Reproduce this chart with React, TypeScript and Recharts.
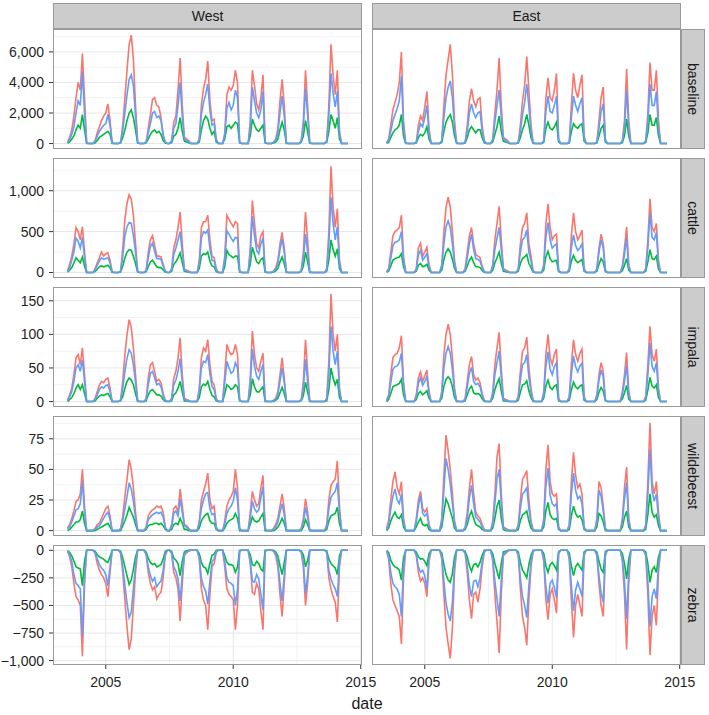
import React from 'react';
import { LineChart, Line, XAxis, YAxis, CartesianGrid } from 'recharts';

const regions = ['West', 'East'];
const species = ['baseline', 'cattle', 'impala', 'wildebeest', 'zebra'];

// monthly steps from mid 2003 to mid 2014, as decimal years
const dates = Array.from({ length: 133 }, (_, i) => 2003.5 + i / 12);

// ---- West ----
const westBaselineRed = [
  100, 400, 900, 1800, 3000, 4000, 3500, 5900, 3000, 50, 0, 0,
  0, 200, 700, 1100, 1500, 1800, 2000, 2600, 1500, 50, 0, 0,
  0, 100, 1200, 3000, 4800, 6500, 7100, 5500, 2500, 100, 0, 0,
  0, 100, 1000, 1900, 2900, 3000, 2500, 2400, 1700, 600, 100, 0,
  0, 200, 1400, 1800, 3500, 5600, 2500, 400, 300, 200, 0, 0,
  0, 0, 300, 2500, 3600, 4200, 5400, 2800, 1500, 1600, 300, 0,
  0, 0, 700, 3200, 3700, 3500, 3800, 4800, 4000, 100, 0, 0,
  0, 0, 1500, 4800, 3800, 2600, 2200, 3000, 4500, 100, 0, 0,
  0, 100, 300, 1000, 2800, 4200, 2500, 50, 0, 0, 0, 0,
  0, 0, 200, 1500, 4800, 2500, 50, 0, 0, 0, 0, 0,
  0, 0, 200, 2500, 6500, 4500, 3200, 4800, 800, 0, 0, 0,
  0,
];
const westBaselineBlue = [
  50, 250, 600, 1100, 2000, 2800, 2500, 4700, 2000, 30, 0, 0,
  0, 150, 500, 800, 1000, 1200, 1300, 1900, 1200, 30, 0, 0,
  0, 80, 900, 2000, 3200, 4200, 4500, 3800, 1800, 60, 0, 0,
  0, 80, 700, 1300, 2000, 2100, 1700, 1800, 1500, 500, 80, 0,
  0, 150, 1000, 1300, 2500, 4000, 1800, 300, 200, 150, 0, 0,
  0, 0, 200, 1900, 2700, 3200, 3900, 2200, 1200, 1300, 200, 0,
  0, 0, 500, 2300, 2700, 2200, 2500, 3500, 3000, 80, 0, 0,
  0, 0, 1000, 3700, 2800, 2000, 1700, 2200, 3400, 80, 0, 0,
  0, 80, 200, 700, 2000, 3100, 1800, 30, 0, 0, 0, 0,
  0, 0, 150, 1100, 3600, 1900, 40, 0, 0, 0, 0, 0,
  0, 0, 150, 1800, 4600, 3300, 2400, 3400, 600, 0, 0, 0,
  0,
];
const westBaselineGreen = [
  20, 100, 300, 500, 900, 1200, 1000, 1900, 900, 10, 0, 0,
  0, 50, 200, 400, 500, 600, 700, 800, 600, 10, 0, 0,
  0, 40, 400, 900, 1500, 2000, 2200, 1700, 900, 30, 0, 0,
  0, 40, 300, 600, 800, 900, 700, 800, 600, 200, 30, 0,
  0, 60, 500, 600, 1000, 1700, 800, 150, 100, 60, 0, 0,
  0, 0, 100, 900, 1500, 1800, 1600, 1000, 600, 800, 100, 0,
  0, 0, 300, 1100, 1200, 1000, 1200, 1400, 1300, 40, 0, 0,
  0, 0, 500, 1600, 1200, 900, 800, 1000, 1200, 40, 0, 0,
  0, 30, 100, 300, 900, 1400, 900, 10, 0, 0, 0, 0,
  0, 0, 80, 500, 1500, 800, 20, 0, 0, 0, 0, 0,
  0, 0, 80, 800, 1900, 1500, 1000, 1700, 300, 0, 0, 0,
  0,
];

const westCattleRed = [
  20, 100, 200, 350, 550, 500, 400, 560, 250, 0, 0, 0,
  0, 50, 120, 180, 250, 200, 230, 240, 150, 10, 0, 0,
  0, 20, 300, 650, 850, 950, 900, 700, 350, 20, 0, 0,
  0, 30, 250, 400, 450, 330, 200, 200, 190, 100, 20, 0,
  0, 50, 300, 400, 550, 740, 350, 40, 30, 20, 0, 0,
  0, 0, 150, 550, 620, 620, 700, 400, 200, 180, 50, 0,
  0, 0, 200, 700, 650, 600, 560, 620, 600, 20, 0, 0,
  0, 0, 300, 880, 600, 350, 300, 450, 500, 20, 0, 0,
  0, 20, 60, 150, 350, 490, 300, 10, 0, 0, 0, 0,
  0, 0, 30, 250, 740, 400, 10, 0, 0, 0, 0, 0,
  0, 0, 50, 500, 1300, 800, 550, 780, 150, 0, 0, 0,
  0,
];
const westCattleBlue = [
  10, 60, 150, 250, 420, 380, 300, 430, 180, 0, 0, 0,
  0, 30, 90, 140, 180, 160, 170, 180, 120, 5, 0, 0,
  0, 15, 200, 450, 560, 610, 600, 450, 250, 10, 0, 0,
  0, 20, 180, 320, 360, 260, 170, 170, 160, 80, 15, 0,
  0, 30, 220, 300, 400, 500, 250, 30, 20, 10, 0, 0,
  0, 0, 100, 420, 500, 480, 520, 300, 150, 140, 30, 0,
  0, 0, 150, 510, 470, 420, 380, 430, 420, 15, 0, 0,
  0, 0, 220, 690, 450, 270, 230, 350, 420, 15, 0, 0,
  0, 15, 40, 110, 280, 410, 250, 5, 0, 0, 0, 0,
  0, 0, 20, 170, 470, 260, 5, 0, 0, 0, 0, 0,
  0, 0, 30, 350, 920, 600, 400, 560, 100, 0, 0, 0,
  0,
];
const westCattleGreen = [
  5, 30, 60, 120, 180, 150, 120, 190, 80, 0, 0, 0,
  0, 15, 40, 70, 80, 70, 80, 90, 60, 0, 0, 0,
  0, 5, 80, 180, 250, 280, 270, 200, 110, 5, 0, 0,
  0, 10, 70, 130, 150, 110, 70, 60, 60, 30, 5, 0,
  0, 15, 100, 130, 180, 240, 120, 15, 10, 5, 0, 0,
  0, 0, 50, 200, 230, 220, 250, 140, 80, 70, 10, 0,
  0, 0, 70, 270, 220, 200, 180, 200, 200, 5, 0, 0,
  0, 0, 100, 310, 220, 130, 110, 160, 180, 5, 0, 0,
  0, 5, 20, 50, 130, 190, 110, 0, 0, 0, 0, 0,
  0, 0, 10, 80, 250, 130, 0, 0, 0, 0, 0, 0,
  0, 0, 15, 150, 400, 280, 200, 290, 50, 0, 0, 0,
  0,
];

const westImpalaRed = [
  2, 10, 20, 40, 65, 70, 55, 80, 40, 0, 0, 0,
  0, 5, 15, 25, 30, 28, 33, 35, 20, 0, 0, 0,
  0, 3, 30, 70, 100, 122, 110, 80, 40, 2, 0, 0,
  0, 5, 35, 55, 58, 45, 30, 33, 28, 12, 2, 0,
  0, 5, 35, 45, 65, 95, 40, 5, 3, 2, 0, 0,
  0, 0, 20, 65, 80, 75, 92, 55, 30, 25, 5, 0,
  0, 0, 40, 85, 75, 70, 72, 85, 70, 3, 0, 0,
  0, 0, 35, 105, 70, 50, 45, 60, 72, 2, 0, 0,
  0, 2, 5, 15, 40, 65, 35, 1, 0, 0, 0, 0,
  0, 0, 3, 30, 92, 45, 1, 0, 0, 0, 0, 0,
  0, 0, 5, 60, 160, 100, 75, 100, 20, 0, 0, 0,
  0,
];
const westImpalaBlue = [
  1, 7, 15, 30, 50, 55, 45, 62, 30, 0, 0, 0,
  0, 3, 10, 18, 22, 20, 24, 25, 15, 0, 0, 0,
  0, 2, 20, 45, 65, 77, 72, 55, 28, 1, 0, 0,
  0, 3, 25, 42, 45, 35, 25, 27, 22, 9, 1, 0,
  0, 3, 25, 32, 45, 64, 30, 3, 2, 1, 0, 0,
  0, 0, 15, 50, 60, 58, 70, 42, 22, 18, 3, 0,
  0, 0, 28, 60, 50, 42, 45, 58, 50, 2, 0, 0,
  0, 0, 25, 78, 52, 38, 33, 45, 55, 1, 0, 0,
  0, 1, 4, 10, 30, 50, 28, 0, 0, 0, 0, 0,
  0, 0, 2, 20, 63, 30, 0, 0, 0, 0, 0, 0,
  0, 0, 3, 42, 112, 75, 55, 75, 15, 0, 0, 0,
  0,
];
const westImpalaGreen = [
  0, 3, 6, 12, 20, 25, 18, 25, 12, 0, 0, 0,
  0, 1, 5, 8, 10, 9, 11, 12, 7, 0, 0, 0,
  0, 1, 8, 20, 30, 35, 32, 25, 12, 0, 0, 0,
  0, 1, 10, 16, 18, 14, 10, 10, 8, 3, 0, 0,
  0, 1, 10, 13, 20, 30, 14, 1, 1, 0, 0, 0,
  0, 0, 6, 22, 26, 24, 30, 18, 9, 7, 1, 0,
  0, 0, 12, 25, 22, 18, 20, 25, 22, 1, 0, 0,
  0, 0, 10, 34, 22, 15, 14, 18, 22, 0, 0, 0,
  0, 0, 2, 5, 13, 21, 12, 0, 0, 0, 0, 0,
  0, 0, 1, 9, 29, 14, 0, 0, 0, 0, 0, 0,
  0, 0, 1, 18, 50, 35, 25, 33, 6, 0, 0, 0,
  0,
];

const westWildebeestRed = [
  2, 5, 10, 16, 24, 25, 30, 50, 20, 0, 0, 0,
  0, 2, 5, 6, 10, 14, 18, 20, 12, 0, 0, 0,
  0, 2, 12, 28, 42, 58, 50, 35, 15, 1, 0, 0,
  0, 3, 12, 15, 17, 18, 20, 19, 20, 15, 3, 0,
  0, 5, 18, 20, 15, 34, 20, 5, 4, 2, 0, 0,
  0, 0, 8, 25, 32, 38, 47, 25, 18, 20, 3, 0,
  0, 0, 8, 20, 25, 28, 32, 50, 35, 2, 0, 0,
  0, 0, 15, 32, 25, 20, 22, 35, 45, 2, 0, 0,
  0, 2, 5, 10, 20, 30, 18, 1, 0, 0, 0, 0,
  0, 0, 2, 10, 26, 15, 1, 0, 0, 0, 0, 0,
  0, 0, 5, 25, 37, 40, 42, 57, 20, 0, 0, 0,
  0,
];
const westWildebeestBlue = [
  1, 3, 7, 12, 17, 18, 22, 40, 15, 0, 0, 0,
  0, 1, 3, 4, 7, 10, 13, 15, 9, 0, 0, 0,
  0, 1, 8, 18, 28, 39, 34, 24, 10, 0, 0, 0,
  0, 2, 9, 11, 13, 14, 15, 14, 15, 11, 2, 0,
  0, 3, 14, 16, 12, 26, 15, 4, 3, 1, 0, 0,
  0, 0, 6, 18, 25, 30, 31, 18, 13, 14, 2, 0,
  0, 0, 5, 14, 18, 20, 24, 35, 25, 1, 0, 0,
  0, 0, 10, 24, 18, 15, 17, 27, 36, 1, 0, 0,
  0, 1, 3, 7, 15, 22, 13, 0, 0, 0, 0, 0,
  0, 0, 1, 7, 19, 11, 0, 0, 0, 0, 0, 0,
  0, 0, 3, 18, 27, 30, 32, 39, 14, 0, 0, 0,
  0,
];
const westWildebeestGreen = [
  0, 1, 3, 5, 7, 7, 9, 16, 6, 0, 0, 0,
  0, 0, 1, 2, 3, 4, 5, 6, 3, 0, 0, 0,
  0, 0, 4, 8, 13, 19, 15, 11, 5, 0, 0, 0,
  0, 1, 4, 5, 5, 6, 6, 5, 6, 4, 1, 0,
  0, 1, 5, 6, 5, 10, 6, 1, 1, 0, 0, 0,
  0, 0, 2, 8, 11, 13, 14, 8, 6, 6, 1, 0,
  0, 0, 2, 6, 8, 9, 10, 14, 10, 0, 0, 0,
  0, 0, 5, 11, 8, 7, 8, 11, 14, 0, 0, 0,
  0, 0, 1, 3, 6, 10, 6, 0, 0, 0, 0, 0,
  0, 0, 0, 3, 9, 5, 0, 0, 0, 0, 0, 0,
  0, 0, 1, 8, 12, 13, 14, 19, 6, 0, 0, 0,
  0,
];

const westZebraRed = [
  -10, -60, -150, -300, -420, -450, -500, -960, -300, 0, 0, 0,
  0, -30, -120, -180, -220, -250, -300, -420, -200, 0, 0, 0,
  0, -30, -200, -450, -700, -900, -800, -500, -200, 0, 0, 0,
  0, -40, -200, -300, -360, -330, -440, -400, -380, -250, -50, 0,
  0, -30, -200, -250, -350, -640, -300, -50, -20, -10, 0, 0,
  0, 0, -80, -350, -450, -500, -720, -400, -150, -120, -20, 0,
  0, 0, -150, -350, -400, -420, -450, -720, -500, -10, 0, 0,
  0, 0, -120, -380, -400, -300, -350, -550, -720, -10, 0, 0,
  0, -10, -50, -150, -400, -600, -300, -5, 0, 0, 0, 0,
  0, 0, -20, -150, -500, -300, -5, 0, 0, 0, 0, 0,
  0, 0, -20, -250, -350, -420, -470, -650, -150, 0, 0, 0,
  0,
];
const westZebraBlue = [
  -5, -40, -100, -220, -300, -320, -350, -780, -250, 0, 0, 0,
  0, -20, -80, -130, -160, -180, -220, -320, -150, 0, 0, 0,
  0, -20, -150, -320, -480, -610, -560, -350, -130, 0, 0, 0,
  0, -30, -150, -230, -280, -250, -330, -300, -280, -180, -30, 0,
  0, -20, -150, -190, -260, -460, -220, -35, -15, -5, 0, 0,
  0, 0, -60, -250, -330, -370, -490, -280, -100, -80, -10, 0,
  0, 0, -100, -250, -290, -300, -320, -500, -350, -5, 0, 0,
  0, 0, -90, -280, -290, -220, -260, -400, -540, -5, 0, 0,
  0, -5, -35, -110, -300, -460, -230, 0, 0, 0, 0, 0,
  0, 0, -15, -110, -390, -230, 0, 0, 0, 0, 0, 0,
  0, 0, -15, -180, -260, -310, -350, -420, -100, 0, 0, 0,
  0,
];
const westZebraGreen = [
  -2, -20, -50, -100, -150, -160, -170, -320, -100, 0, 0, 0,
  0, -10, -40, -60, -70, -80, -100, -110, -60, 0, 0, 0,
  0, -10, -70, -150, -230, -310, -270, -170, -60, 0, 0, 0,
  0, -15, -70, -110, -130, -120, -150, -140, -130, -80, -10, 0,
  0, -10, -70, -90, -120, -230, -100, -15, -5, 0, 0, 0,
  0, 0, -30, -110, -150, -160, -210, -120, -45, -35, 0, 0,
  0, 0, -50, -110, -130, -130, -140, -200, -150, 0, 0, 0,
  0, 0, -40, -130, -140, -100, -120, -170, -190, 0, 0, 0,
  0, 0, -15, -50, -140, -220, -110, 0, 0, 0, 0, 0,
  0, 0, -5, -40, -150, -90, 0, 0, 0, 0, 0, 0,
  0, 0, -5, -80, -120, -140, -160, -220, -50, 0, 0, 0,
  0,
];

// ---- East ----
const eastBaselineRed = [
  50, 300, 1200, 2200, 2700, 3200, 4000, 6000, 1500, 50, 0, 0,
  0, 0, 100, 1200, 1800, 1500, 2400, 3400, 1000, 20, 0, 0,
  0, 0, 200, 2500, 4500, 5500, 6500, 4500, 1500, 50, 0, 0,
  0, 100, 1200, 2800, 3600, 2800, 2400, 2900, 3000, 1200, 200, 0,
  0, 0, 300, 2000, 3500, 5600, 2500, 400, 300, 200, 0, 0,
  0, 0, 100, 1200, 2800, 3800, 5700, 3500, 1200, 50, 0, 0,
  0, 0, 200, 3000, 4300, 3000, 2800, 3500, 4600, 300, 0, 0,
  0, 0, 100, 2500, 4600, 3500, 3000, 3800, 4500, 500, 0, 0,
  0, 0, 0, 100, 1500, 3000, 3700, 300, 0, 0, 0, 0,
  0, 0, 0, 200, 1500, 4900, 1500, 0, 0, 0, 0, 0,
  0, 0, 200, 2000, 5300, 3500, 3500, 4800, 1500, 0, 0, 0,
  0,
];
const eastBaselineBlue = [
  30, 200, 800, 1500, 1900, 2300, 2800, 4400, 1000, 30, 0, 0,
  0, 0, 60, 800, 1300, 1100, 1700, 2500, 700, 10, 0, 0,
  0, 0, 150, 1700, 3000, 3700, 4100, 3000, 1000, 30, 0, 0,
  0, 70, 800, 2000, 2600, 2000, 1700, 2000, 2100, 800, 150, 0,
  0, 0, 200, 1400, 2500, 3500, 1700, 300, 200, 100, 0, 0,
  0, 0, 70, 800, 1900, 2700, 3900, 2400, 800, 30, 0, 0,
  0, 0, 150, 2100, 3100, 2100, 2000, 2500, 3100, 200, 0, 0,
  0, 0, 70, 1700, 3100, 2500, 2100, 2600, 3000, 300, 0, 0,
  0, 0, 0, 70, 1000, 2100, 2600, 200, 0, 0, 0, 0,
  0, 0, 0, 150, 1000, 3500, 1000, 0, 0, 0, 0, 0,
  0, 0, 150, 1400, 3900, 2500, 2500, 3400, 1000, 0, 0, 0,
  0,
];
const eastBaselineGreen = [
  10, 80, 400, 700, 900, 1000, 1200, 1900, 500, 10, 0, 0,
  0, 0, 30, 400, 600, 500, 700, 1100, 300, 0, 0, 0,
  0, 0, 70, 800, 1400, 1700, 1900, 1400, 500, 10, 0, 0,
  0, 30, 400, 900, 1100, 900, 700, 900, 900, 400, 50, 0,
  0, 0, 100, 600, 1100, 1800, 800, 150, 100, 50, 0, 0,
  0, 0, 30, 400, 900, 1300, 1900, 1200, 400, 10, 0, 0,
  0, 0, 70, 1000, 1400, 1000, 900, 1100, 1400, 100, 0, 0,
  0, 0, 30, 800, 1300, 1100, 1000, 1200, 1300, 150, 0, 0,
  0, 0, 0, 30, 500, 1000, 1200, 100, 0, 0, 0, 0,
  0, 0, 0, 60, 500, 1600, 500, 0, 0, 0, 0, 0,
  0, 0, 70, 700, 1900, 1200, 1200, 1700, 500, 0, 0, 0,
  0,
];

const eastCattleRed = [
  10, 50, 250, 450, 500, 520, 550, 700, 200, 5, 0, 0,
  0, 0, 50, 300, 360, 200, 250, 310, 100, 0, 0, 0,
  0, 0, 100, 500, 800, 920, 800, 500, 150, 5, 0, 0,
  0, 50, 250, 450, 550, 350, 220, 200, 180, 80, 10, 0,
  0, 0, 100, 400, 600, 810, 400, 50, 30, 20, 0, 0,
  0, 0, 50, 350, 550, 600, 730, 350, 200, 20, 0, 0,
  0, 0, 100, 600, 840, 550, 400, 450, 470, 30, 0, 0,
  0, 0, 50, 450, 730, 500, 400, 450, 520, 50, 0, 0,
  0, 0, 0, 50, 300, 470, 350, 30, 0, 0, 0, 0,
  0, 0, 0, 80, 300, 560, 100, 0, 0, 0, 0, 0,
  0, 0, 50, 400, 900, 550, 500, 600, 150, 0, 0, 0,
  0,
];
const eastCattleBlue = [
  5, 30, 170, 330, 370, 380, 400, 500, 140, 0, 0, 0,
  0, 0, 30, 220, 270, 150, 190, 230, 70, 0, 0, 0,
  0, 0, 70, 350, 560, 630, 550, 350, 100, 0, 0, 0,
  0, 30, 180, 350, 470, 280, 170, 160, 140, 60, 5, 0,
  0, 0, 70, 280, 420, 550, 280, 35, 20, 10, 0, 0,
  0, 0, 35, 250, 400, 430, 520, 250, 140, 10, 0, 0,
  0, 0, 70, 430, 610, 400, 300, 330, 350, 20, 0, 0,
  0, 0, 35, 300, 460, 330, 270, 300, 350, 30, 0, 0,
  0, 0, 0, 35, 250, 400, 300, 20, 0, 0, 0, 0,
  0, 0, 0, 60, 220, 420, 70, 0, 0, 0, 0, 0,
  0, 0, 35, 300, 730, 430, 400, 490, 100, 0, 0, 0,
  0,
];
const eastCattleGreen = [
  2, 15, 80, 150, 170, 180, 190, 230, 70, 0, 0, 0,
  0, 0, 15, 90, 110, 70, 80, 100, 30, 0, 0, 0,
  0, 0, 30, 160, 250, 290, 250, 160, 50, 0, 0, 0,
  0, 15, 80, 150, 190, 120, 70, 70, 60, 25, 0, 0,
  0, 0, 30, 120, 180, 250, 120, 15, 10, 5, 0, 0,
  0, 0, 15, 110, 170, 190, 220, 110, 60, 5, 0, 0,
  0, 0, 30, 190, 260, 170, 130, 140, 150, 10, 0, 0,
  0, 0, 15, 140, 210, 150, 120, 140, 160, 15, 0, 0,
  0, 0, 0, 15, 100, 170, 130, 10, 0, 0, 0, 0,
  0, 0, 0, 25, 90, 170, 30, 0, 0, 0, 0, 0,
  0, 0, 15, 130, 280, 170, 160, 200, 40, 0, 0, 0,
  0,
];

const eastImpalaRed = [
  2, 10, 40, 65, 70, 72, 80, 98, 30, 1, 0, 0,
  0, 0, 10, 35, 44, 30, 38, 47, 15, 0, 0, 0,
  0, 0, 15, 70, 100, 115, 100, 65, 20, 1, 0, 0,
  0, 5, 30, 55, 67, 40, 32, 35, 28, 12, 2, 0,
  0, 0, 15, 55, 80, 103, 50, 5, 3, 2, 0, 0,
  0, 0, 8, 45, 75, 80, 96, 50, 20, 2, 0, 0,
  0, 0, 15, 70, 100, 65, 55, 70, 78, 5, 0, 0,
  0, 0, 8, 55, 92, 70, 60, 72, 78, 8, 0, 0,
  0, 0, 0, 10, 40, 58, 45, 3, 0, 0, 0, 0,
  0, 0, 0, 15, 40, 73, 15, 0, 0, 0, 0, 0,
  0, 0, 8, 55, 112, 70, 60, 78, 20, 0, 0, 0,
  0,
];
const eastImpalaBlue = [
  1, 7, 28, 48, 52, 53, 58, 72, 22, 0, 0, 0,
  0, 0, 7, 27, 35, 24, 30, 37, 11, 0, 0, 0,
  0, 0, 10, 50, 72, 82, 72, 47, 14, 0, 0, 0,
  0, 3, 22, 42, 51, 30, 25, 27, 22, 9, 1, 0,
  0, 0, 10, 40, 58, 75, 36, 3, 2, 1, 0, 0,
  0, 0, 5, 32, 55, 58, 70, 36, 14, 1, 0, 0,
  0, 0, 10, 52, 74, 48, 40, 52, 58, 3, 0, 0,
  0, 0, 5, 40, 68, 52, 44, 53, 57, 5, 0, 0,
  0, 0, 0, 7, 32, 47, 36, 2, 0, 0, 0, 0,
  0, 0, 0, 10, 30, 54, 10, 0, 0, 0, 0, 0,
  0, 0, 5, 40, 87, 52, 45, 58, 14, 0, 0, 0,
  0,
];
const eastImpalaGreen = [
  0, 3, 12, 22, 24, 25, 27, 33, 10, 0, 0, 0,
  0, 0, 3, 12, 15, 10, 13, 16, 5, 0, 0, 0,
  0, 0, 5, 23, 33, 37, 33, 22, 6, 0, 0, 0,
  0, 1, 10, 19, 23, 13, 11, 12, 10, 4, 0, 0,
  0, 0, 5, 18, 27, 34, 16, 1, 1, 0, 0, 0,
  0, 0, 2, 14, 25, 26, 31, 16, 6, 0, 0, 0,
  0, 0, 5, 23, 32, 21, 18, 23, 25, 1, 0, 0,
  0, 0, 2, 17, 29, 22, 19, 23, 25, 2, 0, 0,
  0, 0, 0, 3, 14, 21, 16, 1, 0, 0, 0, 0,
  0, 0, 0, 4, 13, 24, 4, 0, 0, 0, 0, 0,
  0, 0, 2, 17, 36, 23, 20, 25, 6, 0, 0, 0,
  0,
];

const eastWildebeestRed = [
  2, 8, 25, 40, 48, 35, 30, 40, 10, 0, 0, 0,
  0, 0, 10, 25, 32, 18, 15, 18, 5, 0, 0, 0,
  0, 0, 10, 45, 78, 65, 50, 30, 8, 0, 0, 0,
  0, 3, 15, 35, 50, 30, 15, 12, 10, 5, 1, 0,
  0, 0, 8, 30, 60, 71, 30, 3, 2, 1, 0, 0,
  0, 0, 5, 25, 42, 45, 49, 25, 8, 1, 0, 0,
  0, 0, 10, 50, 70, 40, 30, 28, 30, 3, 0, 0,
  0, 0, 5, 40, 64, 45, 35, 38, 30, 3, 0, 0,
  0, 0, 0, 10, 40, 35, 20, 2, 0, 0, 0, 0,
  0, 0, 0, 10, 35, 52, 10, 0, 0, 0, 0, 0,
  0, 0, 5, 40, 88, 40, 30, 40, 15, 0, 0, 0,
  0,
];
const eastWildebeestBlue = [
  1, 5, 18, 28, 34, 25, 22, 30, 7, 0, 0, 0,
  0, 0, 7, 20, 29, 14, 12, 14, 4, 0, 0, 0,
  0, 0, 7, 33, 59, 50, 38, 22, 6, 0, 0, 0,
  0, 2, 10, 27, 37, 22, 11, 9, 7, 3, 0, 0,
  0, 0, 5, 22, 42, 50, 22, 2, 1, 0, 0, 0,
  0, 0, 3, 18, 30, 32, 35, 18, 6, 0, 0, 0,
  0, 0, 7, 36, 51, 29, 22, 20, 22, 2, 0, 0,
  0, 0, 3, 30, 47, 33, 26, 28, 22, 2, 0, 0,
  0, 0, 0, 7, 33, 28, 16, 1, 0, 0, 0, 0,
  0, 0, 0, 7, 26, 39, 7, 0, 0, 0, 0, 0,
  0, 0, 3, 30, 66, 32, 24, 30, 10, 0, 0, 0,
  0,
];
const eastWildebeestGreen = [
  0, 2, 8, 12, 15, 11, 10, 13, 3, 0, 0, 0,
  0, 0, 3, 7, 10, 5, 4, 5, 1, 0, 0, 0,
  0, 0, 3, 15, 26, 22, 16, 10, 2, 0, 0, 0,
  0, 1, 5, 12, 16, 10, 5, 4, 3, 1, 0, 0,
  0, 0, 2, 10, 20, 25, 10, 1, 0, 0, 0, 0,
  0, 0, 1, 8, 13, 14, 16, 8, 2, 0, 0, 0,
  0, 0, 3, 16, 23, 13, 10, 9, 10, 1, 0, 0,
  0, 0, 1, 12, 20, 14, 11, 12, 9, 1, 0, 0,
  0, 0, 0, 3, 14, 12, 7, 0, 0, 0, 0, 0,
  0, 0, 0, 3, 11, 16, 3, 0, 0, 0, 0, 0,
  0, 0, 1, 13, 30, 15, 11, 13, 4, 0, 0, 0,
  0,
];

const eastZebraRed = [
  -10, -80, -300, -450, -500, -550, -600, -850, -250, 0, 0, 0,
  0, 0, -50, -200, -280, -250, -300, -420, -100, 0, 0, 0,
  0, 0, -80, -400, -700, -850, -980, -700, -200, 0, 0, 0,
  0, -30, -200, -450, -620, -400, -380, -470, -350, -150, -20, 0,
  0, 0, -100, -400, -650, -930, -400, -50, -30, -10, 0, 0,
  0, 0, -50, -350, -600, -700, -860, -450, -150, -10, 0, 0,
  0, 0, -100, -450, -630, -400, -350, -450, -570, -30, 0, 0,
  0, 0, -80, -450, -790, -500, -400, -500, -600, -50, 0, 0,
  0, 0, 0, -50, -300, -500, -600, -50, 0, 0, 0, 0,
  0, 0, 0, -100, -400, -900, -300, 0, 0, 0, 0, 0,
  0, 0, -50, -400, -950, -600, -500, -680, -200, 0, 0, 0,
  0,
];
const eastZebraBlue = [
  -5, -50, -200, -300, -330, -350, -400, -600, -150, 0, 0, 0,
  0, 0, -35, -150, -200, -180, -230, -350, -70, 0, 0, 0,
  0, 0, -50, -280, -480, -580, -640, -470, -130, 0, 0, 0,
  0, -20, -140, -320, -420, -280, -270, -330, -250, -100, -10, 0,
  0, 0, -70, -280, -440, -600, -270, -35, -20, -5, 0, 0,
  0, 0, -35, -250, -420, -500, -610, -320, -100, -5, 0, 0,
  0, 0, -70, -330, -480, -300, -270, -340, -430, -20, 0, 0,
  0, 0, -55, -320, -550, -360, -290, -350, -420, -30, 0, 0,
  0, 0, 0, -35, -230, -390, -470, -30, 0, 0, 0, 0,
  0, 0, 0, -70, -280, -620, -200, 0, 0, 0, 0, 0,
  0, 0, -35, -280, -690, -420, -350, -440, -130, 0, 0, 0,
  0,
];
const eastZebraGreen = [
  -2, -20, -90, -130, -150, -160, -180, -270, -70, 0, 0, 0,
  0, 0, -15, -60, -80, -75, -100, -140, -30, 0, 0, 0,
  0, 0, -25, -130, -220, -270, -290, -210, -60, 0, 0, 0,
  0, -10, -60, -140, -190, -130, -120, -150, -110, -45, 0, 0,
  0, 0, -30, -120, -190, -260, -120, -15, -10, 0, 0, 0,
  0, 0, -15, -110, -180, -210, -250, -130, -45, 0, 0, 0,
  0, 0, -30, -140, -200, -130, -110, -140, -180, -10, 0, 0,
  0, 0, -25, -140, -230, -150, -120, -150, -180, -15, 0, 0,
  0, 0, 0, -15, -100, -170, -200, -10, 0, 0, 0, 0,
  0, 0, 0, -30, -120, -260, -80, 0, 0, 0, 0, 0,
  0, 0, -15, -120, -290, -180, -150, -200, -60, 0, 0, 0,
  0,
];

// [region][species] -> red, green, blue
const seriesTable = [
  [
    [westBaselineRed, westBaselineGreen, westBaselineBlue],
    [westCattleRed, westCattleGreen, westCattleBlue],
    [westImpalaRed, westImpalaGreen, westImpalaBlue],
    [westWildebeestRed, westWildebeestGreen, westWildebeestBlue],
    [westZebraRed, westZebraGreen, westZebraBlue],
  ],
  [
    [eastBaselineRed, eastBaselineGreen, eastBaselineBlue],
    [eastCattleRed, eastCattleGreen, eastCattleBlue],
    [eastImpalaRed, eastImpalaGreen, eastImpalaBlue],
    [eastWildebeestRed, eastWildebeestGreen, eastWildebeestBlue],
    [eastZebraRed, eastZebraGreen, eastZebraBlue],
  ],
];

const yDomains = [[-357, 7500], [-67, 1400], [-8.1, 170.5], [-4.4, 93.6], [-1040, 48]];
const yMajor = [
  [0, 2000, 4000, 6000],
  [0, 500, 1000],
  [0, 50, 100, 150],
  [0, 25, 50, 75],
  [-1000, -750, -500, -250, 0],
];
const yMinor = [
  [1000, 3000, 5000, 7000],
  [250, 750, 1250],
  [25, 75, 125],
  [12.5, 37.5, 62.5, 87.5],
  [-875, -625, -375, -125],
];
const xDomain = [2002.93, 2015.05];
const xMajor = [2005, 2010, 2015];
const xMinor = [2007.5, 2012.5];

const FONT = '"Liberation Sans", Arial, Helvetica, sans-serif';
const PANEL_W = 309;
const PANEL_H = 120;
const AXIS_W = 53;
const X_AXIS_H = 30;
const COL_X = [53, 372];
const ROW_Y = [29, 158, 287, 416, 545];

const fmt = (v: number) => {
  const s = Math.abs(v).toLocaleString('en-US');
  return v < 0 ? '\u2212' + s : s;
};

const Panel = ({ col, row }: { col: number; row: number }) => {
  const isWest = col === 0;
  const isBottom = row === species.length - 1;
  const [red, green, blue] = seriesTable[col][row];
  const data = dates.map((d, i) => ({ date: d, red: red[i], green: green[i], blue: blue[i] }));
  const tickStyle = { fontSize: 14, fill: '#1f1f1f', fontFamily: FONT };

  return (
    <div style={{ position: 'absolute', left: isWest ? 0 : COL_X[1], top: ROW_Y[row] }}>
      <LineChart
        width={isWest ? AXIS_W + PANEL_W : PANEL_W}
        height={PANEL_H + (isBottom ? X_AXIS_H : 0)}
        data={data}
        margin={{ top: 0, right: 0, bottom: 0, left: 0 }}
      >
        <CartesianGrid horizontalValues={yMinor[row]} verticalValues={xMinor} stroke="#f3f3f3" />
        <CartesianGrid horizontalValues={yMajor[row]} verticalValues={xMajor} stroke="#e6e6e6" />
        <XAxis
          dataKey="date"
          type="number"
          domain={xDomain}
          allowDataOverflow
          ticks={xMajor}
          interval={0}
          height={isBottom ? X_AXIS_H : 0}
          axisLine={false}
          tick={isBottom ? tickStyle : false}
          tickLine={isBottom ? { stroke: '#333' } : false}
          tickSize={4}
          tickMargin={8}
        />
        <YAxis
          type="number"
          domain={yDomains[row]}
          allowDataOverflow
          ticks={yMajor[row]}
          interval={0}
          width={isWest ? AXIS_W : 0}
          axisLine={false}
          tick={isWest ? tickStyle : false}
          tickLine={isWest ? { stroke: '#333' } : false}
          tickSize={4}
          tickMargin={5}
          tickFormatter={fmt}
        />
        <Line type="linear" dataKey="red" stroke="#F8766D" strokeWidth={1.6} dot={false} isAnimationActive={false} />
        <Line type="linear" dataKey="green" stroke="#00BA38" strokeWidth={1.6} dot={false} isAnimationActive={false} />
        <Line type="linear" dataKey="blue" stroke="#619CFF" strokeWidth={1.6} dot={false} isAnimationActive={false} />
      </LineChart>
    </div>
  );
};

const stripBase: React.CSSProperties = {
  position: 'absolute',
  boxSizing: 'border-box',
  background: '#cccccc',
  border: '1px solid #999',
  display: 'flex',
  alignItems: 'center',
  justifyContent: 'center',
  fontSize: 14,
  color: '#1a1a1a',
};

export default function App() {
  return (
    <div
      style={{
        position: 'absolute',
        left: 0,
        top: 0,
        width: 709,
        height: 715,
        background: '#fff',
        fontFamily: FONT,
      }}
    >
      <style>{'.recharts-surface{overflow:visible}'}</style>
      {regions.map((_, c) => species.map((__, r) => <Panel key={`${c}-${r}`} col={c} row={r} />))}

      {/* panel borders */}
      {regions.map((_, c) =>
        species.map((__, r) => (
          <div
            key={`b-${c}-${r}`}
            style={{
              position: 'absolute',
              left: COL_X[c],
              top: ROW_Y[r],
              width: PANEL_W,
              height: PANEL_H,
              boxSizing: 'border-box',
              border: '1px solid #999',
              pointerEvents: 'none',
            }}
          />
        ))
      )}

      {/* column strips */}
      {regions.map((name, c) => (
        <div key={name} style={{ ...stripBase, left: COL_X[c], top: 3, width: PANEL_W, height: 26 }}>
          {name}
        </div>
      ))}

      {/* row strips */}
      {species.map((name, r) => (
        <div key={name} style={{ ...stripBase, left: 681, top: ROW_Y[r], width: 24, height: PANEL_H }}>
          <span style={{ transform: 'rotate(90deg)', whiteSpace: 'nowrap' }}>{name}</span>
        </div>
      ))}

      <div
        style={{
          position: 'absolute',
          left: COL_X[0],
          width: COL_X[1] + PANEL_W - COL_X[0],
          top: 695,
          textAlign: 'center',
          fontSize: 16,
          color: '#1a1a1a',
        }}
      >
        date
      </div>
    </div>
  );
}
